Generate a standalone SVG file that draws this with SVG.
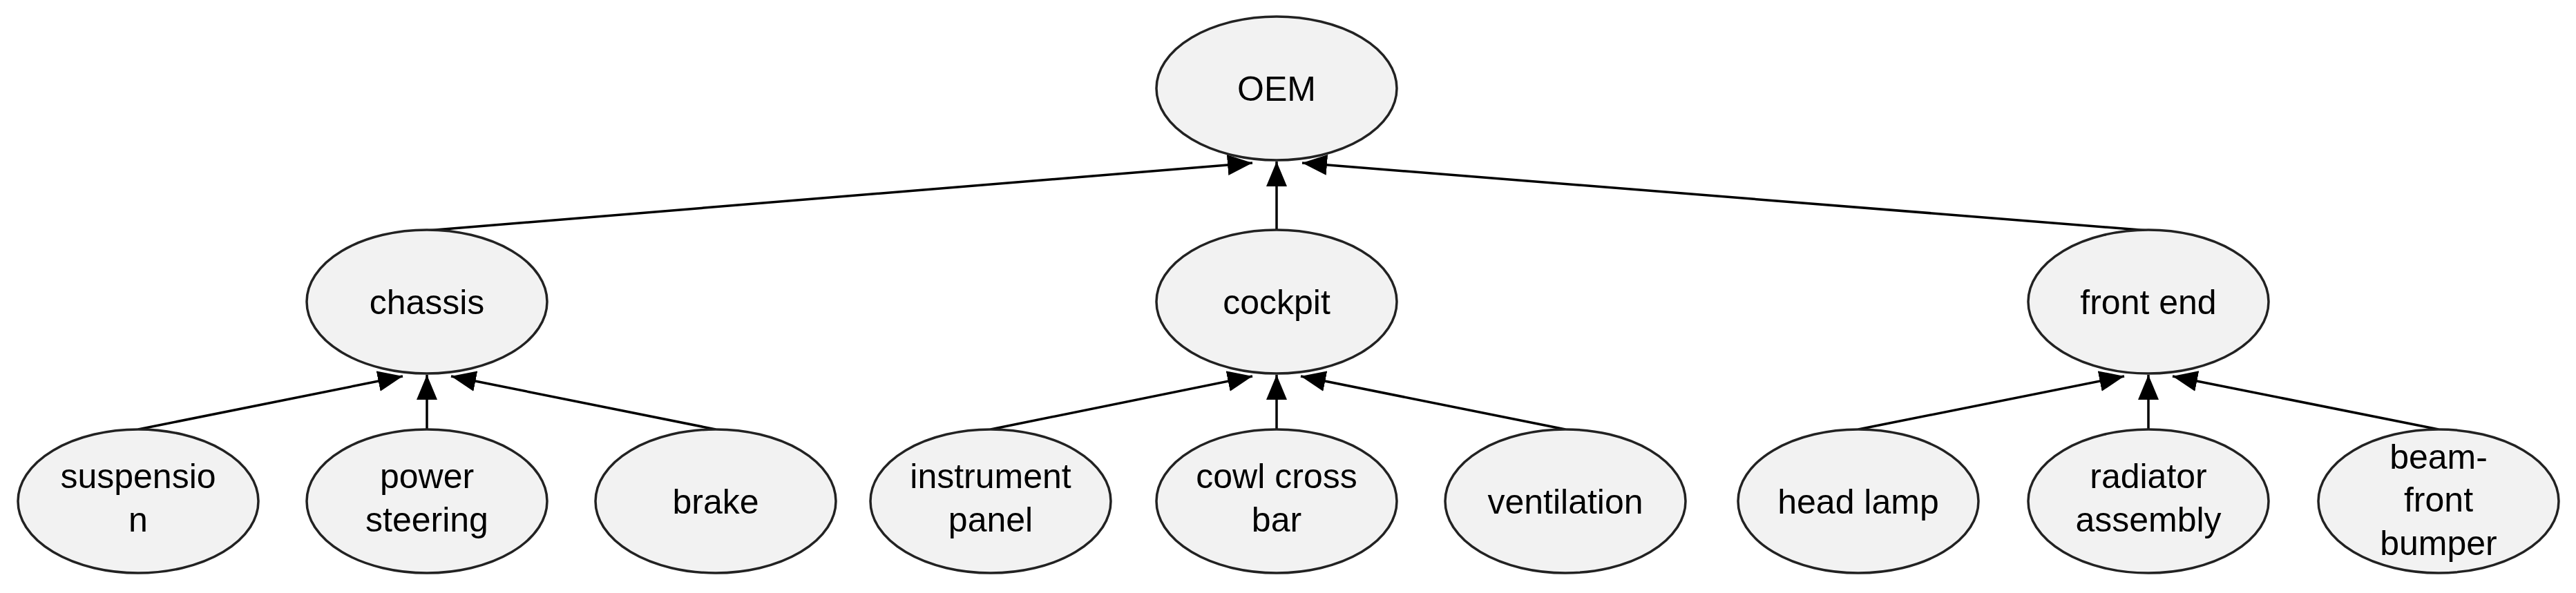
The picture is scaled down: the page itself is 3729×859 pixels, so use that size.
<svg xmlns="http://www.w3.org/2000/svg" width="3729" height="859" viewBox="0 0 3729 859">
<style>
.n ellipse{fill:#f2f2f2;stroke:#222;stroke-width:3.5}
.n text{font-family:"Liberation Sans",Arial,sans-serif;font-size:50px;fill:#000;text-anchor:middle}
.e line{stroke:#000;stroke-width:3.5;marker-end:url(#a)}
</style>
<defs>
<marker id="a" markerUnits="userSpaceOnUse" markerWidth="40" markerHeight="34" refX="36" refY="15" orient="auto">
<path d="M0,0 L36,15 L0,30 Z" fill="#000"/>
</marker>
</defs>
<rect width="3729" height="859" fill="#fff"/>
<g class="e" id="connectors">
<line x1="618" y1="334" x2="1813" y2="236"/>
<line x1="1848" y1="334" x2="1848" y2="234"/>
<line x1="3110" y1="334" x2="1885" y2="236"/>
<line x1="200" y1="622" x2="583" y2="545"/>
<line x1="618" y1="622" x2="618" y2="543"/>
<line x1="1036" y1="622" x2="653" y2="545"/>
<line x1="1434" y1="622" x2="1813" y2="545"/>
<line x1="1848" y1="622" x2="1848" y2="543"/>
<line x1="2266" y1="622" x2="1883" y2="545"/>
<line x1="2690" y1="622" x2="3075" y2="545"/>
<line x1="3110" y1="622" x2="3110" y2="543"/>
<line x1="3530" y1="622" x2="3145" y2="545"/>
</g>
<g class="n" id="oem"><ellipse cx="1848" cy="128" rx="174" ry="104"/><text x="1848" y="146">OEM</text></g>
<g class="n" id="chassis"><ellipse cx="618" cy="437" rx="174" ry="104"/><text x="618" y="455">chassis</text></g>
<g class="n" id="cockpit"><ellipse cx="1848" cy="437" rx="174" ry="104"/><text x="1848" y="455">cockpit</text></g>
<g class="n" id="frontend"><ellipse cx="3110" cy="437" rx="174" ry="104"/><text x="3110" y="455">front end</text></g>
<g class="n" id="suspension"><ellipse cx="200" cy="726" rx="174" ry="104"/><text x="200" y="707">suspensio</text><text x="200" y="770">n</text></g>
<g class="n" id="powersteering"><ellipse cx="618" cy="726" rx="174" ry="104"/><text x="618" y="707">power</text><text x="618" y="770">steering</text></g>
<g class="n" id="brake"><ellipse cx="1036" cy="726" rx="174" ry="104"/><text x="1036" y="744">brake</text></g>
<g class="n" id="instrumentpanel"><ellipse cx="1434" cy="726" rx="174" ry="104"/><text x="1434" y="707">instrument</text><text x="1434" y="770">panel</text></g>
<g class="n" id="cowlcrossbar"><ellipse cx="1848" cy="726" rx="174" ry="104"/><text x="1848" y="707">cowl cross</text><text x="1848" y="770">bar</text></g>
<g class="n" id="ventilation"><ellipse cx="2266" cy="726" rx="174" ry="104"/><text x="2266" y="744">ventilation</text></g>
<g class="n" id="headlamp"><ellipse cx="2690" cy="726" rx="174" ry="104"/><text x="2690" y="744">head lamp</text></g>
<g class="n" id="radiatorassembly"><ellipse cx="3110" cy="726" rx="174" ry="104"/><text x="3110" y="707">radiator</text><text x="3110" y="770">assembly</text></g>
<g class="n" id="beamfrontbumper"><ellipse cx="3530" cy="726" rx="174" ry="104"/><text x="3530" y="679">beam-</text><text x="3530" y="741">front</text><text x="3530" y="804">bumper</text></g>
</svg>
